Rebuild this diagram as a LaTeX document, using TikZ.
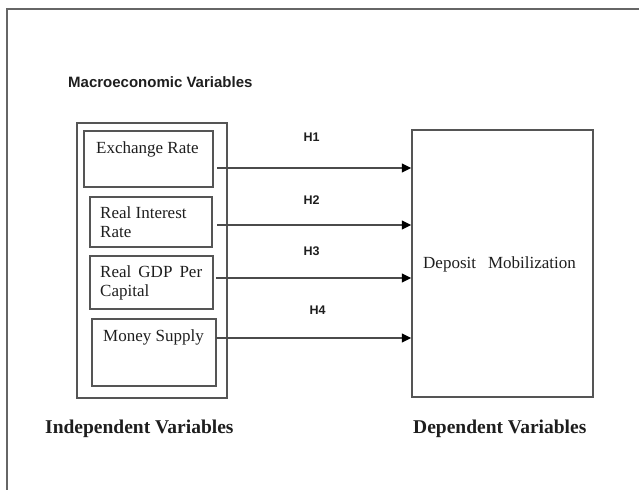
\documentclass[tikz,border=0pt]{standalone}
\usepackage{fontspec}
\setmainfont{Liberation Serif}
\newfontfamily\headfont{Liberation Sans}
\usetikzlibrary{arrows.meta}
\definecolor{frameline}{HTML}{666666}
\definecolor{boxline}{HTML}{555555}
\definecolor{ink}{HTML}{1E1E1E}
\tikzset{
  varbox/.style={draw=boxline, line width=1.5pt, rectangle, inner sep=0pt},
  txt/.style={inner sep=0pt, anchor=base west, text=ink, font=\fontsize{17}{20}\selectfont},
  hlabel/.style={inner sep=0pt, text=ink, font=\headfont\bfseries\fontsize{12.5}{14}\selectfont},
  caption/.style={inner sep=0pt, anchor=base west, text=ink, font=\bfseries\fontsize{19.5}{22}\selectfont},
  link/.style={draw=ink!80, line width=1.5pt,
               -{Triangle[length=9.5pt,width=9pt,color=black]}}
}
\begin{document}
\begin{tikzpicture}[x=1pt, y=-1pt]
  \useasboundingbox (0,0) rectangle (639,490);
  % page frame
  \draw[frameline, line width=2pt] (639,9) -- (7,9) -- (7,490);

  % heading
  \node[inner sep=0pt, anchor=base west, text=ink,
        font=\headfont\bfseries\fontsize{15}{17}\selectfont] (macro) at (68,87) {Macroeconomic Variables};

  % independent variables
  \node[varbox, minimum width=150pt, minimum height=275pt] (iv) at (152,260.5) {};
  \node[varbox, minimum width=129pt, minimum height=56pt] (er) at (148.5,159) {};
  \node[varbox, minimum width=122pt, minimum height=50pt] (ri) at (151,222) {};
  \node[varbox, minimum width=123pt, minimum height=53pt] (gdp) at (151.5,282.5) {};
  \node[varbox, minimum width=124pt, minimum height=67pt] (ms) at (154,352.5) {};

  \node[txt] (ert) at (96,153) {Exchange Rate};
  \node[txt] (rit1) at (100,218) {Real Interest};
  \node[txt] (rit2) at (100,237) {Rate};
  \node[txt] (gdpt1) at (100,277) {\makebox[102pt][s]{Real GDP Per}};
  \node[txt] (gdpt2) at (100,296) {Capital};
  \node[txt] (mst) at (103,341) {Money Supply};

  % dependent variable
  \node[varbox, minimum width=181pt, minimum height=267pt] (dm) at (502.5,263.5) {};
  \node[txt] (dmt) at (423,268) {Deposit\hspace{12pt}Mobilization};

  % hypothesised links
  \coordinate (s1) at (217,168);
  \coordinate (s2) at (217,225);
  \coordinate (s3) at (216,278);
  \coordinate (s4) at (216,338);
  \draw[link] (s1) -- (dm.west |- s1);
  \draw[link] (s2) -- (dm.west |- s2);
  \draw[link] (s3) -- (dm.west |- s3);
  \draw[link] (s4) -- (dm.west |- s4);

  \node[hlabel] (h1) at (311.5,137) {H1};
  \node[hlabel] (h2) at (311.5,200) {H2};
  \node[hlabel] (h3) at (311.5,251) {H3};
  \node[hlabel] (h4) at (317.5,310) {H4};

  % captions
  \node[caption] (ivcap) at (45,433) {Independent Variables};
  \node[caption] (dvcap) at (413,433) {Dependent Variables};
\end{tikzpicture}
\end{document}
